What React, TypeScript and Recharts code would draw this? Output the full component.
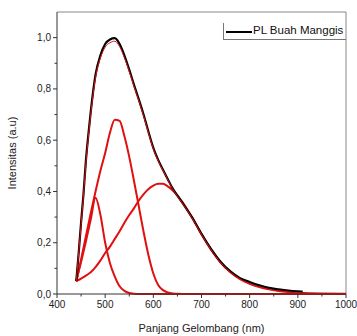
import { LineChart, Line, XAxis, YAxis, Legend, ReferenceLine } from "recharts";

// wavelength grid (nm)
const wavelengths = [440, 445, 450, 455, 460, 465, 470, 480, 490, 500, 510, 520, 530, 540, 550, 560, 570, 580, 590, 600, 610, 620, 630, 640, 650, 660, 680, 700, 720, 740, 760, 780, 800, 820, 840, 860, 880, 900, 910, 920, 950, 1000];

// measured PL spectrum (black)
const plBuahManggis = [0.05, 0.16, 0.28, 0.39, 0.52, 0.62, 0.71, 0.855, 0.93, 0.975, 0.993, 0.998, 0.975, 0.93, 0.875, 0.815, 0.758, 0.698, 0.632, 0.57, 0.523, 0.485, 0.448, 0.412, 0.384, 0.357, 0.3, 0.235, 0.175, 0.125, 0.088, 0.062, 0.047, 0.034, 0.024, 0.018, 0.013, 0.01, 0.009, null, null, null];

// cumulative fit (thin red)
const fitSum = [0.05, 0.16, 0.27, 0.385, 0.51, 0.61, 0.7, 0.845, 0.92, 0.963, 0.98, 0.986, 0.965, 0.922, 0.868, 0.81, 0.753, 0.693, 0.628, 0.566, 0.52, 0.482, 0.445, 0.41, 0.382, 0.355, 0.298, 0.232, 0.172, 0.122, 0.085, 0.058, 0.04, 0.027, 0.018, 0.012, 0.008, 0.005, 0.004, 0.003, 0.002, 0.001];

// gaussian components (red)
const peak480 = [0.05, 0.088, 0.125, 0.165, 0.205, 0.248, 0.29, 0.375, 0.31, 0.2, 0.12, 0.068, 0.03, 0.012, 0.004, 0.001, 0, 0, 0, 0, 0, 0, 0, 0, 0, 0, 0, 0, 0, 0, 0, 0, 0, 0, 0, 0, 0, 0, 0, 0, 0, 0];
const peak520 = [0.05, 0.092, 0.135, 0.18, 0.225, 0.27, 0.315, 0.4, 0.48, 0.55, 0.63, 0.68, 0.675, 0.615, 0.535, 0.44, 0.34, 0.24, 0.15, 0.08, 0.035, 0.015, 0.006, 0.002, 0.001, 0, 0, 0, 0, 0, 0, 0, 0, 0, 0, 0, 0, 0, 0, 0, 0, 0];
const peak610 = [0.05, 0.055, 0.06, 0.066, 0.072, 0.078, 0.085, 0.105, 0.13, 0.16, 0.185, 0.215, 0.245, 0.278, 0.308, 0.335, 0.365, 0.39, 0.41, 0.423, 0.43, 0.43, 0.42, 0.405, 0.385, 0.36, 0.3, 0.232, 0.172, 0.122, 0.085, 0.058, 0.04, 0.027, 0.018, 0.012, 0.008, 0.005, 0.004, 0.003, 0.002, 0.001];

const xTicks = [400, 450, 500, 550, 600, 650, 700, 750, 800, 850, 900, 950, 1000];
const yTicks = [0, 0.1, 0.2, 0.3, 0.4, 0.5, 0.6, 0.7, 0.8, 0.9, 1.0];

const data = wavelengths.map((w, i) => ({
  w,
  pl: plBuahManggis[i],
  fit: fitSum[i],
  p1: peak480[i],
  p2: peak520[i],
  p3: peak610[i],
}));

const RED = "#e01010";
const FONT = "'Liberation Sans', Arial, sans-serif";

function XTick({ x, y, payload }: any) {
  const major = payload.value % 100 === 0;
  return (
    <g>
      <line x1={x} x2={x} y1={y} y2={y + (major ? 4 : 2.5)} stroke="#333" strokeWidth={1} />
      {major && (
        <text x={x} y={y + 14} textAnchor="middle" fontSize={10} fill="#222" fontFamily={FONT}>
          {payload.value}
        </text>
      )}
    </g>
  );
}

function YTick({ x, y, payload }: any) {
  const v = Math.round(payload.value * 10);
  const major = v % 2 === 0;
  return (
    <g>
      <line x1={x - (major ? 4 : 2.5)} x2={x} y1={y} y2={y} stroke="#333" strokeWidth={1} />
      {major && (
        <text x={x - 6} y={y + 3.5} textAnchor="end" fontSize={10} fill="#222" fontFamily={FONT}>
          {(v / 10).toFixed(1).replace(".", ",")}
        </text>
      )}
    </g>
  );
}

function LegendBox() {
  return (
    <div style={{ position: "relative", width: 123, height: 17, borderLeft: "1px solid #777", borderBottom: "1px solid #777", boxSizing: "border-box" }}>
      <svg width={30} height={16} style={{ position: "absolute", left: 1, top: 0 }}>
        <line x1={1} x2={27} y1={9} y2={9} stroke="#000" strokeWidth={2} />
      </svg>
      <span style={{ position: "absolute", left: 29, top: 1, fontSize: 11.5, fontFamily: FONT, color: "#111", whiteSpace: "nowrap" }}>
        PL Buah Manggis
      </span>
    </div>
  );
}

export default function App() {
  return (
    <div style={{ position: "absolute", left: 0, top: 0, width: 357, height: 336, background: "#fff" }}>
      <LineChart width={357} height={336} data={data} margin={{ top: 12, right: 11, bottom: 0, left: 0 }}>
        <XAxis
          dataKey="w"
          type="number"
          domain={[400, 1000]}
          ticks={xTicks}
          interval={0}
          height={42}
          tickSize={0}
          tickMargin={0}
          tick={<XTick />}
          stroke="#333"
          label={{ value: "Panjang Gelombang (nm)", position: "insideBottom", offset: 4, fontSize: 11, fill: "#222", fontFamily: FONT }}
        />
        <YAxis
          type="number"
          domain={[0, 1.1]}
          ticks={yTicks}
          interval={0}
          width={57}
          tickSize={0}
          tickMargin={0}
          tick={<YTick />}
          stroke="#333"
          label={{ value: "Intensitas (a.u)", angle: -90, position: "insideLeft", offset: 12, fontSize: 11, fill: "#222", fontFamily: FONT, style: { textAnchor: "middle" } }}
        />
        <ReferenceLine y={1.1} stroke="#888" strokeWidth={1} />
        <ReferenceLine x={1000} stroke="#888" strokeWidth={1} />
        <Legend
          verticalAlign="middle"
          align="center"
          content={() => <LegendBox />}
          wrapperStyle={{ top: 23, left: 223, width: 123, height: 17 }}
        />
        <Line dataKey="p3" type="monotone" stroke={RED} strokeWidth={2} dot={false} isAnimationActive={false} legendType="none" />
        <Line dataKey="p2" type="monotone" stroke={RED} strokeWidth={2} dot={false} isAnimationActive={false} legendType="none" />
        <Line dataKey="p1" type="monotone" stroke={RED} strokeWidth={2} dot={false} isAnimationActive={false} legendType="none" />
        <Line dataKey="pl" type="monotone" stroke="#000" strokeWidth={2.2} dot={false} isAnimationActive={false} connectNulls={false} />
        <Line dataKey="fit" type="monotone" stroke={RED} strokeWidth={1} dot={false} isAnimationActive={false} legendType="none" />
      </LineChart>
    </div>
  );
}
